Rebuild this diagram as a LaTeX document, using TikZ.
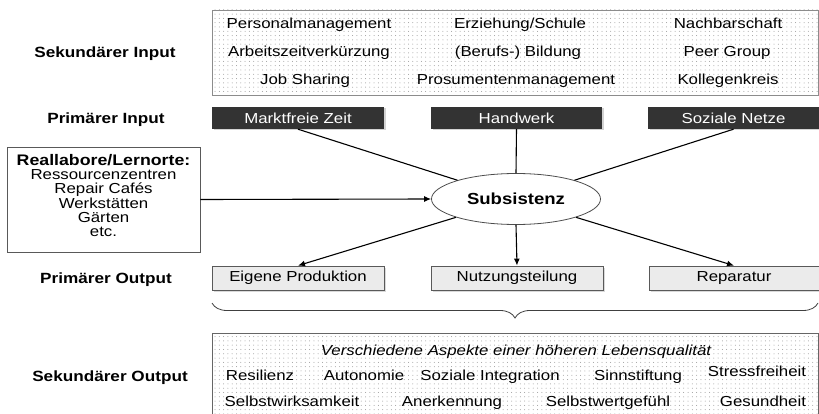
\documentclass[tikz,border=0pt]{standalone}
\usepackage{fontspec}
\setmainfont{Liberation Sans}[FakeStretch=1.16]
\usetikzlibrary{shapes.geometric,shadows,patterns.meta,decorations.pathreplacing,arrows.meta}
\begin{document}
\begin{tikzpicture}[x=1pt,y=-1pt,
  txt/.style={font=\fontsize{14.5}{17}\selectfont, inner sep=0pt, anchor=base},
  itxt/.style={font=\fontsize{14.5}{17}\itshape, inner sep=0pt, anchor=base},
  lbl/.style={font=\fontsize{14.8}{17}\bfseries, inner sep=0pt, anchor=base},
  dotbox/.style={draw=#1, line width=0.8pt, pattern={Dots[radius=0.5pt,distance=4.3pt]}, pattern color=black!40},
  darkbox/.style={fill=black!80, text=white, minimum height=22pt, inner sep=0pt,
    font=\fontsize{14.5}{17}\selectfont, text height=11pt, text depth=0pt,
    drop shadow={shadow xshift=1.5pt, shadow yshift=-1.5pt, opacity=.35}},
  outbox/.style={fill=black!8, draw=black!65, line width=0.8pt, minimum height=24pt, inner sep=0pt,
    font=\fontsize{14.5}{17}\selectfont, text height=10.5pt, text depth=3pt,
    drop shadow={shadow xshift=1.5pt, shadow yshift=-1.5pt, opacity=.3}},
  conn/.style={line width=1.1pt, black},
  arr/.style={conn, -{Latex[length=7pt,width=6pt]}}
]
\useasboundingbox (0,0) rectangle (819,414);
\clip (0,0) rectangle (819,414);

% left labels
\node[lbl] (si) at (105,57.3) {Sekundärer Input};
\node[lbl] (pi) at (106,123.3) {Primärer Input};
\node[lbl] (po) at (106,283.3) {Primärer Output};
\node[lbl] (so) at (110,381.7) {Sekundärer Output};

% secondary input box
\node[dotbox=black!45, minimum width=606pt, minimum height=85pt, inner sep=0pt] (topbox) at (515,52.5) {};
\node[txt] (t11) at (309,29) {Personalmanagement};
\node[txt] (t12) at (309,57) {Arbeitszeitverkürzung};
\node[txt] (t13) at (305,85) {Job Sharing};
\node[txt] (t21) at (520,29) {Erziehung/Schule};
\node[txt] (t22) at (518,57) {(Berufs-) Bildung};
\node[txt] (t23) at (516,85) {Prosumentenmanagement};
\node[txt] (t31) at (728,29) {Nachbarschaft};
\node[txt] (t32) at (727,57) {Peer Group};
\node[txt] (t33) at (728,85) {Kollegenkreis};

% primary input
\node[darkbox, minimum width=172pt] (mz) at (298,118) {Marktfreie Zeit};
\node[darkbox, minimum width=171pt] (hw) at (516.5,118) {Handwerk};
\node[darkbox, minimum width=171pt] (sn) at (733.5,118) {Soziale Netze};

% Reallabore box
\node[draw=black!65, line width=0.8pt, fill=white, minimum width=193pt, minimum height=105pt, inner sep=0pt,
  drop shadow={shadow xshift=1pt, shadow yshift=-1pt, opacity=.2}] (rl) at (103.5,199.5) {};
\node[font=\fontsize{14.5}{14.3}\selectfont, align=center, inner sep=0pt, anchor=base] (rltxt) at (103.5,236.7)
  {{\fontsize{15.3}{14.3}\bfseries Reallabore/Lernorte:}\\Ressourcenzentren\\Repair Cafés\\Werkstätten\\Gärten\\etc.};

% Subsistenz
\node[ellipse, draw=black!70, line width=0.8pt, fill=white, minimum width=169pt, minimum height=51pt, inner sep=0pt,
  font=\fontsize{16}{18}\bfseries, text height=11pt, text depth=0pt] (sub) at (516,199) {Subsistenz};

% primary output
\node[outbox, minimum width=172pt] (ep) at (298,278) {Eigene Produktion};
\node[outbox, minimum width=172pt] (nt) at (517,278) {Nutzungsteilung};
\node[outbox, minimum width=170pt] (rp) at (734,278) {Reparatur};

% connectors
\draw[conn] (mz.south) -- (sub);
\draw[conn] (hw.south) -- (sub.north);
\draw[conn] (sn.south) -- (sub);
\draw[arr] (rl.east) -- (sub.west);
\draw[arr] (sub) -- (ep.north);
\draw[arr] (sub.south) -- (nt.north);
\draw[arr] (sub) -- (rp.north);

% brace
\coordinate (bl) at (212,303);
\coordinate (br) at (818,303);
\draw[black!75, line width=0.8pt, decorate, decoration={brace, amplitude=15pt, mirror}] (bl) -- (br);

% secondary output box
\node[dotbox=black!60, minimum width=606pt, minimum height=90pt, inner sep=0pt, anchor=north west] (botbox) at (212,333) {};
\node[itxt] (title) at (516,355) {Verschiedene Aspekte einer höheren Lebensqualität};
\node[txt] (b1) at (260,380) {Resilienz};
\node[txt] (b2) at (364,380) {Autonomie};
\node[txt] (b3) at (490,380) {Soziale Integration};
\node[txt] (b4) at (638,380) {Sinnstiftung};
\node[txt] (b5) at (757,376.7) {Stressfreiheit};
\node[txt] (c1) at (292,406.7) {Selbstwirksamkeit};
\node[txt] (c2) at (452,406.7) {Anerkennung};
\node[txt] (c3) at (608,406.7) {Selbstwertgefühl};
\node[txt] (c4) at (763,406.7) {Gesundheit};
\end{tikzpicture}
\end{document}
